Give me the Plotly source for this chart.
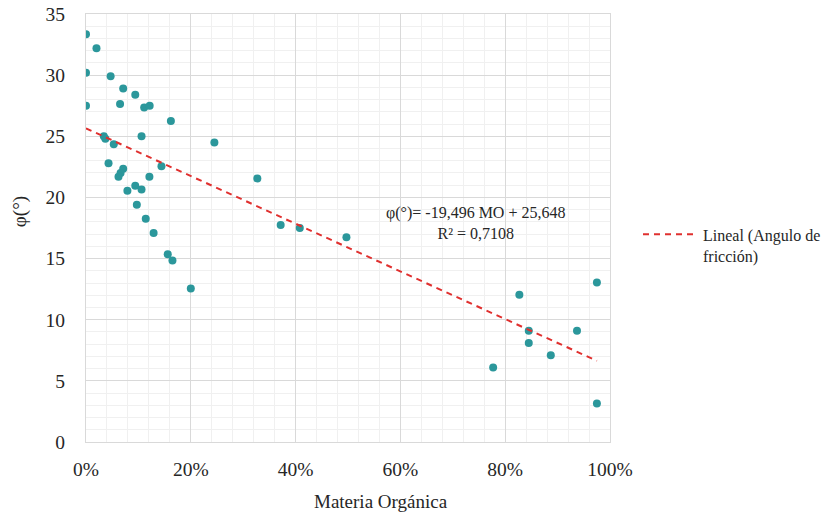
import plotly.graph_objects as go
import numpy as np

# Materia orgánica (fraction) and friction angle (degrees)
mo = [0.000, 0.020, 0.000, 0.047, 0.071, 0.094, 0.065, 0.000, 0.111, 0.1215,
      0.162, 0.034, 0.037, 0.106, 0.053, 0.245, 0.043, 0.144, 0.071, 0.066,
      0.062, 0.121, 0.327, 0.094, 0.106, 0.079, 0.097, 0.114, 0.3715, 0.408,
      0.129, 0.156, 0.165, 0.200, 0.497, 0.975, 0.827, 0.845, 0.937, 0.845,
      0.887, 0.777, 0.975]
phi = [33.35, 32.2, 30.2, 29.9, 28.9, 28.4, 27.65, 27.5, 27.35, 27.5,
       26.25, 25.0, 24.8, 25.0, 24.35, 24.5, 22.8, 22.55, 22.35, 22.0,
       21.7, 21.7, 21.55, 20.95, 20.65, 20.55, 19.4, 18.25, 17.75, 17.5,
       17.1, 15.35, 14.85, 12.55, 16.75, 13.05, 12.05, 9.1, 9.1, 8.1,
       7.1, 6.1, 3.15]

slope = -19.496
intercept = 25.648
x_ticks = [0, 0.2, 0.4, 0.6, 0.8, 1.0]
x_ticklabels = ["0%", "20%", "40%", "60%", "80%", "100%"]
y_ticks = [0, 5, 10, 15, 20, 25, 30, 35]
legend_label = "Lineal (Angulo de<br>fricción)"

trend_x = np.array([min(mo), max(mo)])
trend_y = slope * trend_x + intercept

FONT = "Liberation Serif"
TXT = "#262626"
RED = "#E0302F"

W, H = 829, 518
# plot area in window pixels
L, R, T, B = 86, 610, 14, 441.7
def px(x):
    return (x - L) / (R - L)
def py(y):
    return (B - y) / (B - T)

fig = go.Figure()
fig.add_trace(go.Scatter(
    x=mo, y=phi, mode="markers", name="Angulo de fricción",
    marker=dict(color="#2B979B", size=8), showlegend=False))
fig.add_trace(go.Scatter(
    x=trend_x, y=trend_y, mode="lines", name=legend_label,
    line=dict(color=RED, width=2, dash="6px,5px"), showlegend=False))

fig.update_layout(
    width=W, height=H,
    margin=dict(l=L, r=W - R, t=T, b=H - B, autoexpand=False),
    paper_bgcolor="white", plot_bgcolor="white",
    font=dict(family=FONT, color=TXT, size=19),
    showlegend=False,
    xaxis=dict(range=[0, 1], tickvals=x_ticks, ticktext=x_ticklabels,
               automargin=False, ticklabeloverflow="allow",
               showgrid=True, gridcolor="#D9D9D9", gridwidth=1,
               minor=dict(dtick=0.04, showgrid=True, gridcolor="#F0F0F0", gridwidth=1),
               showline=True, linecolor="#D9D9D9", linewidth=1, mirror=True,
               zeroline=False, ticks="outside", ticklen=10, tickcolor="rgba(0,0,0,0)",
               tickfont=dict(size=19.5, family=FONT, color=TXT)),
    yaxis=dict(range=[0, 35], tickvals=y_ticks,
               automargin=False, ticklabeloverflow="allow",
               showgrid=True, gridcolor="#D9D9D9", gridwidth=1,
               minor=dict(dtick=1, showgrid=True, gridcolor="#F0F0F0", gridwidth=1),
               showline=True, linecolor="#D9D9D9", linewidth=1, mirror=True,
               zeroline=False, ticks="outside", ticklen=16, tickcolor="rgba(0,0,0,0)",
               tickfont=dict(size=19.5, family=FONT, color=TXT)),
    shapes=[
        dict(type="line", xref="paper", yref="paper",
             x0=px(643), x1=px(693), y0=py(234), y1=py(234),
             line=dict(color=RED, width=2, dash="6px,5px")),
    ],
    annotations=[
        dict(text="φ(°)= -19,496 MO + 25,648<br>R² = 0,7108", xref="paper", yref="paper",
             x=px(475), y=py(222.5), xanchor="center", yanchor="middle", showarrow=False,
             font=dict(size=16, family=FONT, color=TXT), align="center"),
        dict(text="Materia Orgánica", xref="paper", yref="paper",
             x=px(381), y=py(501), xanchor="center", yanchor="middle", showarrow=False,
             font=dict(size=19, family=FONT, color=TXT)),
        dict(text="φ(°)", xref="paper", yref="paper", textangle=-90,
             x=px(20), y=py(212), xanchor="center", yanchor="middle", showarrow=False,
             font=dict(size=19, family=FONT, color=TXT)),
        dict(text=legend_label, xref="paper", yref="paper",
             x=px(701), y=py(246.5), xanchor="left", yanchor="middle", showarrow=False,
             font=dict(size=16, family=FONT, color=TXT), align="left"),
    ],
)

# remove the page's default body margin so the figure fills the window exactly
fig.write_html("out.html", config={"displayModeBar": False},
               post_script="document.body.style.margin='0';")
